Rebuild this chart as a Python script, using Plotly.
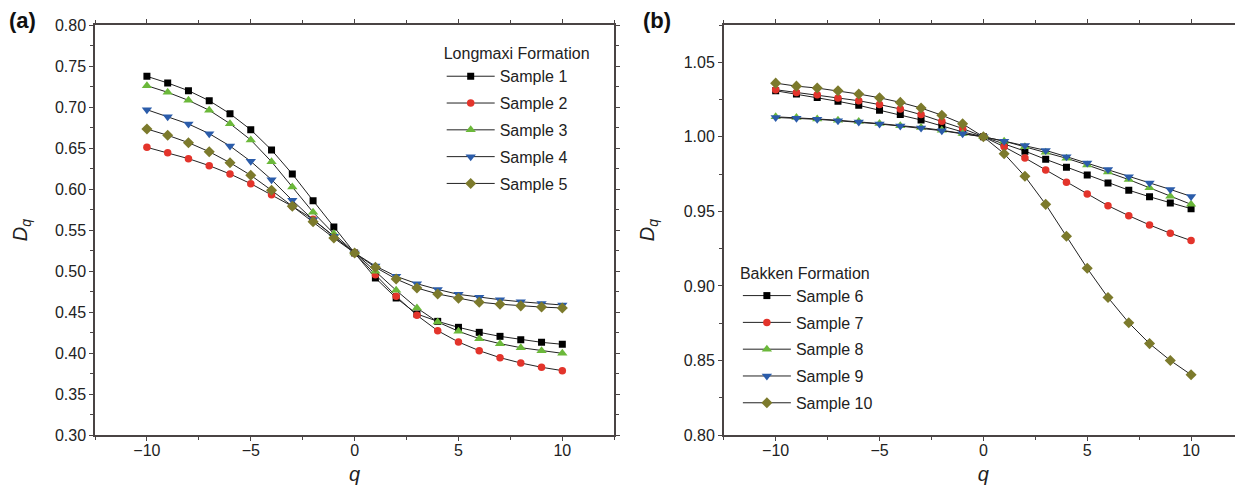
import plotly.graph_objects as go

q = list(range(-10, 11))

# panel (a) Longmaxi Formation
sample1 = [0.7374, 0.7293, 0.7199, 0.7077, 0.6918, 0.6723, 0.6476, 0.6183, 0.5858, 0.5537, 0.522,
           0.4915, 0.4671, 0.4476, 0.4386, 0.4313, 0.4252, 0.4203, 0.4162, 0.4130, 0.4106]
sample2 = [0.6508, 0.6443, 0.6370, 0.6285, 0.6183, 0.6065, 0.5931, 0.5789, 0.5630, 0.5425, 0.522,
           0.4955, 0.4691, 0.4460, 0.4272, 0.4134, 0.4028, 0.3943, 0.3878, 0.3826, 0.3785]
sample3 = [0.7260, 0.7179, 0.7081, 0.6960, 0.6797, 0.6598, 0.6333, 0.6024, 0.5716, 0.5455, 0.522,
           0.4996, 0.4764, 0.4549, 0.4378, 0.4265, 0.4175, 0.4114, 0.4065, 0.4028, 0.3996]
sample4 = [0.6967, 0.6882, 0.6793, 0.6675, 0.6524, 0.6337, 0.6114, 0.5862, 0.5626, 0.5423, 0.522,
           0.5060, 0.4935, 0.4845, 0.4775, 0.4715, 0.4680, 0.4650, 0.4625, 0.4605, 0.4585]
sample5 = [0.6732, 0.6655, 0.6565, 0.6455, 0.6321, 0.6167, 0.5984, 0.5789, 0.5602, 0.5402, 0.522,
           0.5045, 0.4902, 0.4793, 0.4720, 0.4667, 0.4620, 0.4595, 0.4575, 0.4560, 0.4549]

# panel (b) Bakken Formation
sample6 = [1.0309, 1.0287, 1.0264, 1.0238, 1.0211, 1.0178, 1.0149, 1.0113, 1.0073, 1.0033, 1.000,
           0.9953, 0.9904, 0.9849, 0.9796, 0.9744, 0.9691, 0.9642, 0.9598, 0.9556, 0.9518]
sample7 = [1.0316, 1.0298, 1.0282, 1.0260, 1.0242, 1.0216, 1.0187, 1.0149, 1.0105, 1.0056, 1.000,
           0.9933, 0.9858, 0.9778, 0.9696, 0.9616, 0.9538, 0.9471, 0.9409, 0.9353, 0.9304]
sample8 = [1.0134, 1.0129, 1.0120, 1.0111, 1.0102, 1.0089, 1.0075, 1.0062, 1.0044, 1.0022, 1.000,
           0.9971, 0.9933, 0.9896, 0.9856, 0.9811, 0.9764, 0.9713, 0.9658, 0.9602, 0.9547]
sample9 = [1.0130, 1.0125, 1.0117, 1.0108, 1.0099, 1.0086, 1.0072, 1.0059, 1.0041, 1.0020, 1.000,
           0.9971, 0.9942, 0.9909, 0.9867, 0.9824, 0.9780, 0.9733, 0.9691, 0.9647, 0.9600]
sample10 = [1.0360, 1.0340, 1.0327, 1.0309, 1.0287, 1.0262, 1.0231, 1.0193, 1.0145, 1.0087, 1.000,
            0.9887, 0.9735, 0.9547, 0.9333, 0.9118, 0.8922, 0.8753, 0.8613, 0.8500, 0.8404]

STYLES = [
    ("square", "#000000", 7),
    ("circle", "#e3342b", 7.5),
    ("triangle-up", "#6bb83a", 9),
    ("triangle-down", "#2b5caa", 9),
    ("diamond", "#7c7a2c", 8.5),
]
AXIS_COLOR = "#4a4444"
FONT = "Liberation Sans, Arial, sans-serif"

fig = go.Figure()

panel_a = [("Sample 1", sample1), ("Sample 2", sample2), ("Sample 3", sample3),
           ("Sample 4", sample4), ("Sample 5", sample5)]
panel_b = [("Sample 6", sample6), ("Sample 7", sample7), ("Sample 8", sample8),
           ("Sample 9", sample9), ("Sample 10", sample10)]

for (name, vals), (sym, col, size) in zip(panel_a, STYLES):
    fig.add_trace(go.Scatter(
        x=q, y=vals, name=name, mode="lines+markers",
        line=dict(color="#222222", width=1),
        marker=dict(symbol=sym, color=col, size=size, line=dict(width=0)),
        xaxis="x", yaxis="y", legend="legend", legendgroup=name,
    ))

for (name, vals), (sym, col, size) in zip(panel_b, STYLES):
    fig.add_trace(go.Scatter(
        x=q, y=vals, name=name, mode="lines+markers",
        line=dict(color="#222222", width=1),
        marker=dict(symbol=sym, color=col, size=size, line=dict(width=0)),
        xaxis="x2", yaxis="y2", legend="legend2", legendgroup=name,
    ))

_axis = dict(
    showline=True, linecolor=AXIS_COLOR, linewidth=1.5, mirror="allticks",
    ticks="outside", ticklen=4, tickwidth=1.2, tickcolor=AXIS_COLOR,
    showgrid=False, zeroline=False,
    tickfont=dict(size=16, color="#222222", family=FONT),
)
_xaxis = dict(_axis, range=[-12.5, 12.5], tickvals=[-10, -5, 0, 5, 10], ticklabelstandoff=-4,
              minor=dict(dtick=2.5, tick0=0, ticks="outside", ticklen=3, tickcolor=AXIS_COLOR),
              title=dict(text="<i>q</i>", font=dict(size=20, family=FONT, color="#222222"), standoff=9))

title_dq = dict(text="<i>D</i><sub><i>q</i></sub>", font=dict(size=20, family=FONT, color="#222222"))

_legend = dict(
    bgcolor="rgba(0,0,0,0)", borderwidth=0,
    font=dict(size=16, family=FONT, color="#222222"),
    title=dict(font=dict(size=16, family=FONT, color="#222222")),
    itemwidth=48, tracegroupgap=3, xanchor="left", yanchor="top",
)

fig.update_layout(
    width=1243, height=490,
    paper_bgcolor="white", plot_bgcolor="white",
    margin=dict(l=87, r=2, t=17, b=63),
    font=dict(family=FONT, color="#222222"),
    xaxis=dict(_xaxis, domain=[0, 0.4523], anchor="y"),
    yaxis=dict(_axis, domain=[0, 1], anchor="x", range=[0.30, 0.80], dtick=0.05,
               tickformat=".2f",
               minor=dict(dtick=0.025, ticks="outside", ticklen=3, tickcolor=AXIS_COLOR),
               title=dict(title_dq, standoff=22)),
    xaxis2=dict(_xaxis, domain=[0.5477, 1], anchor="y2"),
    yaxis2=dict(_axis, domain=[0, 1], anchor="x2", range=[0.80, 1.075],
                tickvals=[0.80, 0.85, 0.90, 0.95, 1.00, 1.05], tickformat=".2f",
                minor=dict(dtick=0.025, tick0=0.8, ticks="outside", ticklen=3, tickcolor=AXIS_COLOR),
                title=dict(title_dq, standoff=24)),
    legend=dict(_legend, x=0.302, y=0.967, title_text="Longmaxi Formation"),
    legend2=dict(_legend, x=0.56, y=0.432, title_text="Bakken Formation"),
)

fig.add_annotation(text="<b>(a)</b>", xref="paper", yref="paper", x=-0.077, y=1.01,
                   xanchor="left", yanchor="middle", showarrow=False,
                   font=dict(size=22, family=FONT, color="#111111"))
fig.add_annotation(text="<b>(b)</b>", xref="paper", yref="paper", x=0.4755, y=1.01,
                   xanchor="left", yanchor="middle", showarrow=False,
                   font=dict(size=22, family=FONT, color="#111111"))

fig.write_html("out.html")
